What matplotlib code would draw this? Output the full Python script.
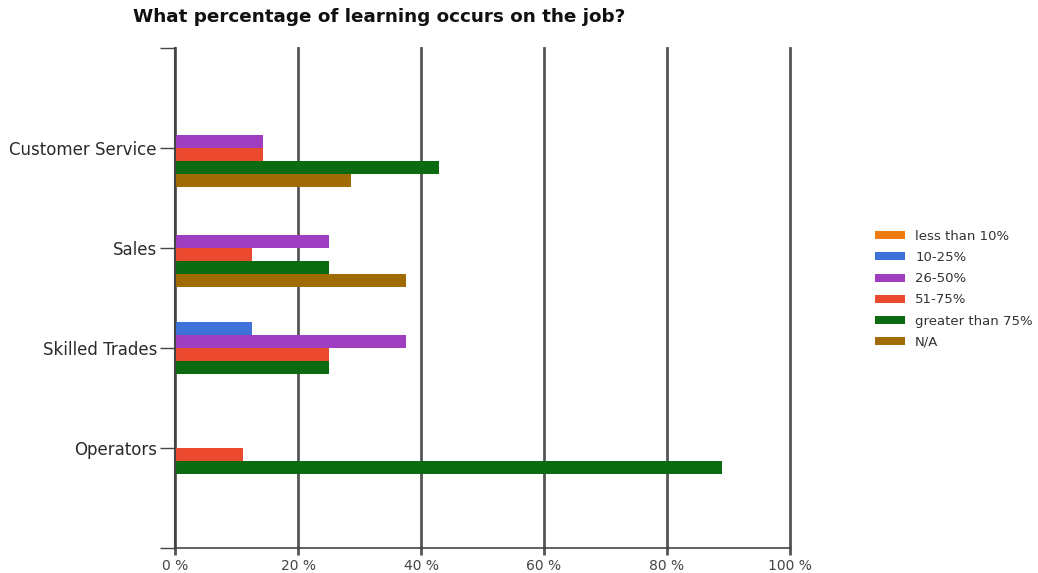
import matplotlib
matplotlib.use('Agg')

import matplotlib.pyplot as plt
import numpy as np

plt.rcParams['font.family'] = ['DejaVu Sans']

# --- Data ---
jobs = ['Customer Service', 'Sales', 'Skilled Trades', 'Operators']
answers = ['less than 10%', '10-25%', '26-50%', '51-75%', 'greater than 75%', 'N/A']
less_than_10 = [0.0, 0.0, 0.0, 0.0]
pct_10_25 = [0.0, 0.0, 12.5, 0.0]
pct_26_50 = [14.3, 25.0, 37.5, 0.0]
pct_51_75 = [14.3, 12.5, 25.0, 11.1]
greater_75 = [42.9, 25.0, 25.0, 88.9]
not_applicable = [28.6, 37.5, 0.0, 0.0]

series = [less_than_10, pct_10_25, pct_26_50, pct_51_75, greater_75, not_applicable]
colors = ['#F07A12', '#3E72D8', '#A03EC2', '#EC4A2E', '#0B6B10', '#A06A04']

fig = plt.figure(figsize=(10.38, 5.73), dpi=100)
ax = fig.add_axes([0.1686, 0.0436, 0.5925, 0.8726])

# one row of six bars per job, first answer at the top
y = np.arange(len(jobs))
step = 0.13
for j, (vals, col, lab) in enumerate(zip(series, colors, answers)):
    ax.barh(y + (j - 2.5) * step, vals, height=step, color=col,
            edgecolor='none', label=lab)

ax.set_xlim(0, 100)
ax.set_ylim(4, -1)
ax.set_xticks(np.arange(0, 101, 20))
ax.set_xticklabels([f'{v} %' for v in range(0, 101, 20)])
ax.set_yticks([-1, 0, 1, 2, 3, 4])
ax.set_yticklabels([''] + jobs + [''])

ax.grid(axis='x', color='#555555', linewidth=2)
for gl in ax.get_xgridlines():
    gl.set_clip_on(False)
ax.set_axisbelow(True)
for side in ['top', 'right']:
    ax.spines[side].set_visible(False)
ax.spines['left'].set_color('#444444')
ax.spines['left'].set_linewidth(1.5)
ax.spines['bottom'].set_color('#444444')
ax.spines['bottom'].set_linewidth(1.2)
ax.tick_params(axis='y', length=11, width=1, color='#444444', labelsize=12,
               labelcolor='#2a2a2a', pad=2)
ax.tick_params(axis='x', length=5, width=2, color='#555555', labelsize=10,
               labelcolor='#444444', pad=3)

fig.text(133 / 1038, 1 - 17 / 573, 'What percentage of learning occurs on the job?',
         fontsize=13.2, fontweight='bold', va='center', ha='left', color='#111111')

fig.legend(loc='upper left', bbox_to_anchor=(863 / 1038, 1 - 218 / 573),
           frameon=False, fontsize=9.5, handlelength=2.3, handleheight=0.55,
           labelspacing=0.62, handletextpad=0.75, labelcolor='#333333')

fig.savefig('out.png', dpi=100)
